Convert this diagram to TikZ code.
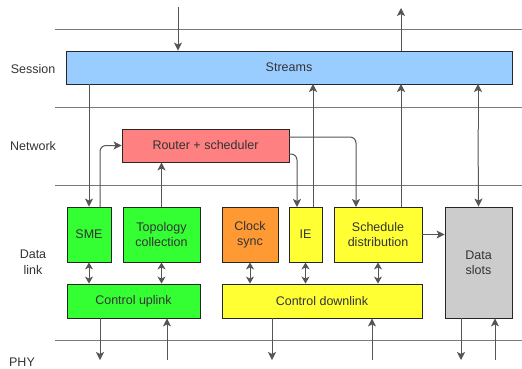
\documentclass[tikz,border=0pt]{standalone}
\usepackage{fontspec}
\setmainfont{Liberation Sans}
\usetikzlibrary{arrows.meta}
\definecolor{txt}{HTML}{333333}
\definecolor{ln}{HTML}{555555}
\definecolor{sep}{HTML}{7A7A7A}
\definecolor{cblue}{HTML}{99CCFF}
\definecolor{cred}{HTML}{FF8080}
\definecolor{cgreen}{HTML}{33FF33}
\definecolor{corange}{HTML}{FF9933}
\definecolor{cyellow}{HTML}{FFFF33}
\definecolor{cgray}{HTML}{CCCCCC}
\tikzset{
  box/.style={draw=black!85, line width=0.9pt, inner sep=0pt, text=txt, align=center, font=\fontsize{12.5}{15}\selectfont},
  lbl/.style={text=txt, align=center, font=\fontsize{12.5}{15}\selectfont},
  conn/.style={draw=ln, line width=1pt, -{Stealth[length=8pt,width=8pt,inset=2pt]}, rounded corners=6pt},
  bi/.style={draw=ln, line width=1pt, {Stealth[length=7pt,width=8pt,inset=2pt]}-{Stealth[length=7pt,width=8pt,inset=2pt]}},
  sepl/.style={draw=sep, line width=1pt}
}
\begin{document}
\begin{tikzpicture}[x=1pt,y=-1pt]
\useasboundingbox (0,0) rectangle (522,368);
% separators
\draw[sepl] (55,29) -- (522,29);
\draw[sepl] (55,107) -- (522,107);
\draw[sepl] (55,185) -- (522,185);
\draw[sepl] (55,340) -- (522,340);
% labels
\node[lbl] (lsession) at (33,69) {Session};
\node[lbl] (lnetwork) at (33,146) {Network};
\node[lbl, font=\fontsize{12.5}{16}\selectfont] (ldata) at (33,262) {Data\\link};
\node[lbl] (lphy) at (22,362) {PHY};
% boxes
\node[box, fill=cblue, minimum width=446pt, minimum height=33pt] (streams) at (289,67.5) {Streams};
\node[box, fill=cred, minimum width=167pt, minimum height=33pt] (router) at (205.5,145.5) {Router + scheduler};
\node[box, fill=cgreen, minimum width=44pt, minimum height=55pt] (sme) at (89,234.5) {SME};
\node[box, fill=cgreen, minimum width=77pt, minimum height=55pt] (topo) at (161.5,234.5) {Topology\\collection};
\node[box, fill=corange, minimum width=56pt, minimum height=55pt] (clock) at (250,234.5) {Clock\\sync};
\node[box, fill=cyellow, minimum width=33pt, minimum height=55pt] (ie) at (305.5,234.5) {IE};
\node[box, fill=cyellow, minimum width=88pt, minimum height=55pt] (sched) at (378,234.5) {Schedule\\distribution};
\node[box, fill=cgray, minimum width=67pt, minimum height=111pt] (slots) at (478.5,262.5) {Data\\slots};
\node[box, fill=cgreen, minimum width=133pt, minimum height=34pt] (cup) at (133.5,301) {Control uplink};
\node[box, fill=cyellow, minimum width=200pt, minimum height=34pt] (cdown) at (322,301) {Control downlink};
% free ends
\coordinate (topin) at (178,7);
\coordinate (topout) at (401,8);
\coordinate (p1) at (100,360);
\coordinate (p2) at (167,360);
\coordinate (p3) at (272,360);
\coordinate (p4) at (372,360);
\coordinate (p5) at (461,360);
\coordinate (p6) at (495,360);
% session connectors
\draw[conn] (topin) -- (topin |- streams.north);
\draw[conn] (topout |- streams.north) -- (topout);
\draw[conn] (89,84) -- (sme.north);
\draw[conn] (313,207) -- (313,84);
\draw[conn] (401,207) -- (401,84);
\draw[conn] (478,129) -- (478,84);
\draw[conn] (478,129) -- (slots.north);
% network connectors
\draw[conn] (100,207) -- (100,145.5) -- (router.west);
\draw[conn] (topo.north) -- (topo.north |- router.south);
\draw[conn] (289,137) -- (356,137) -- (356,207);
\draw[conn] (289,154) -- (297,154) -- (297,207);
% data link
\draw[conn] (sched.east) -- (slots.west |- sched.east);
\draw[bi] (sme.south) -- (sme.south |- cup.north);
\draw[bi] (topo.south) -- (topo.south |- cup.north);
\draw[bi] (clock.south) -- (clock.south |- cdown.north);
\draw[bi] (ie.south) -- (ie.south |- cdown.north);
\draw[bi] (sched.south) -- (sched.south |- cdown.north);
% phy
\draw[conn] (p1 |- cup.south) -- (p1);
\draw[conn] (p2) -- (p2 |- cup.south);
\draw[conn] (p3 |- cdown.south) -- (p3);
\draw[conn] (p4) -- (p4 |- cdown.south);
\draw[conn] (p5 |- slots.south) -- (p5);
\draw[conn] (p6) -- (p6 |- slots.south);
\end{tikzpicture}
\end{document}
